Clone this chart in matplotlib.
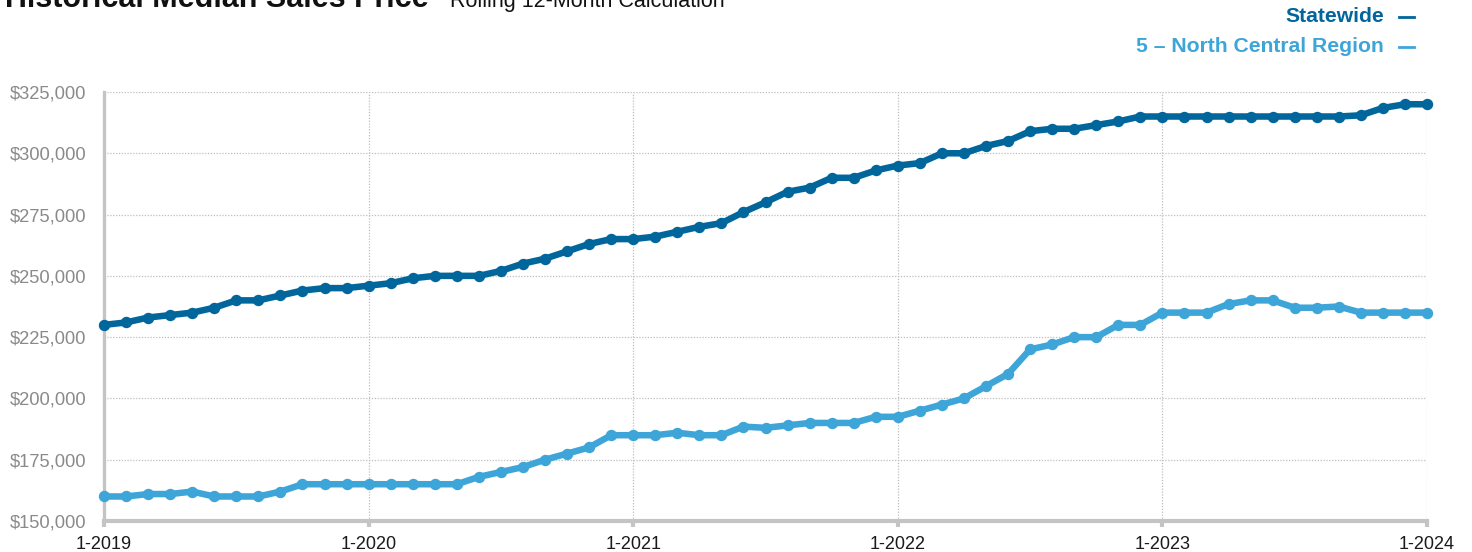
import matplotlib
matplotlib.use("Agg")
import matplotlib.pyplot as plt
from matplotlib import font_manager as fm

# ---------------- data ----------------
tick_labels = ["1-2019", "1-2020", "1-2021", "1-2022", "1-2023", "1-2024"]
months = [f"{m}-{y}" for y in range(2019, 2024) for m in range(1, 13)] + ["1-2024"]

statewide = [
    230000, 231000, 233000, 234000, 235000, 237000, 240000, 240000, 242000, 244000, 245000, 245000,
    246000, 247000, 249000, 250000, 250000, 250000, 252000, 255000, 257000, 260000, 263000, 265000,
    265000, 266000, 268000, 270000, 271500, 276000, 280000, 284300, 286000, 290000, 290000, 293000,
    295000, 296000, 300000, 300000, 303000, 305000, 309000, 310000, 310000, 311500, 313000, 315000,
    315000, 315000, 315000, 315000, 315000, 315000, 315000, 315000, 315000, 315500, 318500, 320000,
    320000,
]
region = [
    160000, 160000, 161000, 161000, 162000, 160000, 160000, 160000, 162000, 165000, 165000, 165000,
    165000, 165000, 165000, 165000, 165000, 168000, 170000, 172000, 175000, 177500, 180000, 185000,
    185000, 185000, 186000, 185000, 185000, 188500, 188000, 189000, 190000, 190000, 190000, 192500,
    192500, 195000, 197500, 200000, 205000, 210000, 220000, 222000, 225000, 225000, 230000, 230000,
    235000, 235000, 235000, 238500, 240000, 240000, 237000, 237000, 237500, 235000, 235000, 235000,
    235000,
]
series_names = ["Statewide", "5 \u2013 North Central Region"]
colors = ["#00669b", "#3ea5d9"]
y_ticks = [150000, 175000, 200000, 225000, 250000, 275000, 300000, 325000]

# ---------------- fonts ----------------
avail = {f.name for f in fm.fontManager.ttflist}
base = "Liberation Sans" if "Liberation Sans" in avail else "DejaVu Sans"
narrow = "Liberation Sans Narrow" if "Liberation Sans Narrow" in avail else base
plt.rcParams["font.family"] = [base, "DejaVu Sans"]

W, H = 1472, 552
fig = plt.figure(figsize=(W / 100, H / 100), dpi=100)
L, R, T, B = 104, 1427, 92, 521
ax = fig.add_axes([L / W, 1 - B / H, (R - L) / W, (B - T) / H])

x = list(range(len(months)))
for vals, c in zip([statewide, region], colors):
    ax.plot(x, vals, color=c, lw=4.7, marker="o", ms=7.2, mec=c, mfc=c,
            solid_joinstyle="round", clip_on=False, zorder=3)

ax.set_xlim(0, len(months) - 1)
ax.set_ylim(150000, 325000)
ax.set_yticks(y_ticks)
ax.set_yticklabels([f"${v:,.0f}" for v in y_ticks])
xt = [months.index(lbl) for lbl in tick_labels]
ax.set_xticks(xt)
ax.set_xticklabels(tick_labels)

ax.grid(True, color="#bfbfbf", linestyle=(0, (1, 1.3)), linewidth=0.9, zorder=0)
for s in ["top", "right"]:
    ax.spines[s].set_visible(False)
ax.spines["left"].set_color("#c4c4c4")
ax.spines["left"].set_linewidth(2.4)
ax.spines["bottom"].set_color("#c4c4c4")
ax.spines["bottom"].set_linewidth(3.0)
ax.tick_params(axis="y", length=0, pad=12.5, labelsize=13.2, labelcolor="#8a8a8a")
ax.tick_params(axis="x", length=4, width=3, color="#c4c4c4", pad=7,
               labelsize=13.0, labelcolor="#1a1a1a")

# ---------------- titles ----------------
fig.text(5 / W, 1 - 7 / H, "Historical Median Sales Price", family=[narrow, "DejaVu Sans"],
         fontweight="bold", fontsize=22, ha="left", va="baseline", color="#111111")
fig.text(450 / W, 1 - 7 / H, "Rolling 12-Month Calculation", family=[narrow, "DejaVu Sans"],
         fontsize=15.5, ha="left", va="baseline", color="#111111")

# ---------------- legend ----------------
for i, (name, c) in enumerate(zip(series_names, colors)):
    yy = 1 - (17 + 30 * i) / H
    fig.text(1384 / W, yy, name, ha="right", va="center", fontsize=15.2, fontweight="bold", color=c)
    fig.add_artist(plt.Line2D([1399 / W, 1414 / W], [yy, yy], transform=fig.transFigure,
                              color=c, lw=2))

fig.savefig("out.png", dpi=100)
